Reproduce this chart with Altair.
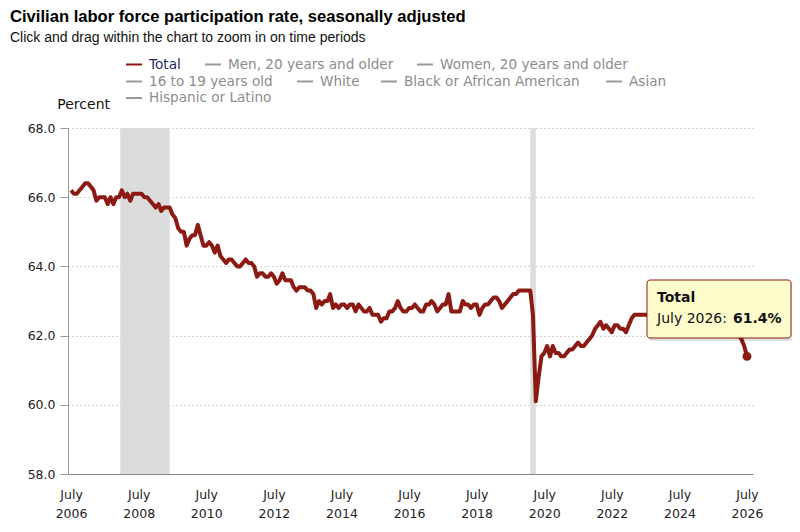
import altair as alt
import pandas as pd

# ---------------- data ----------------
series_name = "Total"
lfpr_2006 = [66.2, 66.1, 66.1, 66.2, 66.3, 66.4]  # Jul-Dec
lfpr_2007 = [66.4, 66.3, 66.2, 65.9, 66.0, 66.0, 66.0, 65.8, 66.0, 65.8, 66.0, 66.0]
lfpr_2008 = [66.2, 66.0, 66.1, 65.9, 66.1, 66.1, 66.1, 66.1, 66.0, 66.0, 65.9, 65.8]
lfpr_2009 = [65.7, 65.8, 65.6, 65.7, 65.7, 65.7, 65.5, 65.4, 65.1, 65.0, 65.0, 64.6]
lfpr_2010 = [64.8, 64.9, 64.9, 65.2, 64.9, 64.6, 64.6, 64.7, 64.6, 64.4, 64.6, 64.3]
lfpr_2011 = [64.2, 64.1, 64.2, 64.2, 64.1, 64.0, 64.0, 64.1, 64.2, 64.1, 64.1, 64.0]
lfpr_2012 = [63.7, 63.8, 63.8, 63.7, 63.7, 63.8, 63.7, 63.5, 63.6, 63.8, 63.6, 63.6]
lfpr_2013 = [63.6, 63.4, 63.3, 63.4, 63.4, 63.4, 63.3, 63.3, 63.2, 62.8, 63.0, 62.9]
lfpr_2014 = [63.0, 63.0, 63.2, 62.8, 62.9, 62.8, 62.9, 62.9, 62.8, 62.9, 62.9, 62.7]
lfpr_2015 = [62.9, 62.8, 62.7, 62.7, 62.8, 62.6, 62.6, 62.6, 62.4, 62.5, 62.5, 62.7]
lfpr_2016 = [62.7, 62.8, 63.0, 62.8, 62.7, 62.7, 62.8, 62.8, 62.9, 62.8, 62.7, 62.7]
lfpr_2017 = [62.9, 62.9, 63.0, 62.9, 62.7, 62.8, 62.9, 62.9, 63.2, 62.7, 62.7, 62.7]
lfpr_2018 = [62.7, 63.0, 62.9, 62.9, 62.8, 62.9, 62.9, 62.6, 62.8, 62.9, 62.9, 63.0]
lfpr_2019 = [63.1, 63.1, 63.0, 62.8, 62.9, 63.0, 63.1, 63.2, 63.2, 63.3, 63.3, 63.3]
lfpr_2020 = [63.3, 63.3, 62.6, 60.1, 60.8, 61.4, 61.5, 61.7, 61.4, 61.7, 61.5, 61.5]
lfpr_2021 = [61.4, 61.4, 61.5, 61.6, 61.6, 61.7, 61.8, 61.7, 61.7, 61.8, 61.9, 62.0]
lfpr_2022 = [62.2, 62.3, 62.4, 62.2, 62.3, 62.2, 62.1, 62.3, 62.3, 62.2, 62.2, 62.1]
lfpr_2023 = [62.3, 62.5, 62.6, 62.6, 62.6, 62.6, 62.6, 62.6, 62.8, 62.7, 62.8, 62.5]
lfpr_2024 = [62.5, 62.5, 62.7, 62.7, 62.6, 62.6, 62.7, 62.7, 62.7, 62.6, 62.5, 62.5]
lfpr_2025 = [62.6, 62.4, 62.5, 62.6, 62.4, 62.3, 62.2, 62.3, 62.4, 62.4, 62.5, 62.4]
lfpr_2026 = [62.5, 62.4, 62.2, 62.0, 61.9, 61.7, 61.4]  # Jan-Jul

yearly = [
    (2006, 7, lfpr_2006), (2007, 1, lfpr_2007), (2008, 1, lfpr_2008), (2009, 1, lfpr_2009),
    (2010, 1, lfpr_2010), (2011, 1, lfpr_2011), (2012, 1, lfpr_2012), (2013, 1, lfpr_2013),
    (2014, 1, lfpr_2014), (2015, 1, lfpr_2015), (2016, 1, lfpr_2016), (2017, 1, lfpr_2017),
    (2018, 1, lfpr_2018), (2019, 1, lfpr_2019), (2020, 1, lfpr_2020), (2021, 1, lfpr_2021),
    (2022, 1, lfpr_2022), (2023, 1, lfpr_2023), (2024, 1, lfpr_2024), (2025, 1, lfpr_2025),
    (2026, 1, lfpr_2026),
]

recession_start = ["2007-12-15T00:00:00", "2020-02-01T00:00:00"]
recession_end = ["2009-06-01T00:00:00", "2020-04-01T00:00:00"]

tick_years = [2006, 2008, 2010, 2012, 2014, 2016, 2018, 2020, 2022, 2024, 2026]
y_ticks = [58, 60, 62, 64, 66, 68]

legend_labels = ["Total", "Men, 20 years and older", "Women, 20 years and older",
                 "16 to 19 years old", "White", "Black or African American", "Asian",
                 "Hispanic or Latino"]

title_text = "Civilian labor force participation rate, seasonally adjusted"
subtitle_text = "Click and drag within the chart to zoom in on time periods"
y_title = "Percent"

# ---------------- tables ----------------
rows = []
for yr, m0, vals in yearly:
    for i, v in enumerate(vals):
        rows.append({"date": f"{yr}-{m0 + i:02d}-01T00:00:00", "value": v})
df = pd.DataFrame(rows)
last = df.iloc[-1:].copy()

rec_df = pd.DataFrame({"start": recession_start, "end": recession_end})

RED = "#8b1a13"
NAVY = "#1c2a66"
GREY_LINE = "#999999"
GREY_TEXT = "#8c8c8c"
FONT = "DejaVu Sans"
HEAD = "Liberation Sans"

# legend layout (pixels relative to plot origin)
leg_x = [58, 137, 349, 58, 229, 313, 538, 58]
leg_y = [-63.5, -63.5, -63.5, -46.5, -46.5, -46.5, -46.5, -30]
leg_df = pd.DataFrame({
    "label": legend_labels,
    "x0": leg_x,
    "x1": [x + 16 for x in leg_x],
    "tx": [x + 23 for x in leg_x],
    "y": leg_y,
    "lcol": [RED] + [GREY_LINE] * 7,
    "tcol": [NAVY] + [GREY_TEXT] * 7,
})

xscale = alt.Scale(domain=[alt.DateTime(year=2006, month=5, date=29),
                           alt.DateTime(year=2026, month=9, date=4)])
xaxis = alt.Axis(
    title=None,
    values=[alt.DateTime(year=y, month=7, date=1) for y in tick_years],
    labelExpr="[timeFormat(datum.value, '%B'), timeFormat(datum.value, '%Y')]",
    labelFont=FONT, labelFontSize=12.5, labelColor="#222", labelLineHeight=19,
    labelPadding=14, labelFlush=False, labelOverlap=False,
    ticks=False, domainColor="#888", domainWidth=1, grid=False,
)
yscale = alt.Scale(domain=[58, 68], nice=False, zero=False)
yaxis = alt.Axis(
    title=None, values=y_ticks, format=".1f",
    labelFont=FONT, labelFontSize=12.5, labelColor="#222", labelPadding=5,
    tickSize=8, tickColor="#999", domainColor="#999",
    grid=True, gridDash=[1, 3], gridColor="#aaa", gridWidth=1,
)

X = alt.X("date:T", scale=xscale, axis=xaxis)

rec = alt.Chart(rec_df).mark_rect(color="#dcdcdc").encode(
    x=alt.X("start:T", scale=xscale, axis=xaxis), x2="end:T"
)

line = alt.Chart(df).mark_line(color=RED, strokeWidth=4, strokeJoin="round").encode(
    x=X, y=alt.Y("value:Q", scale=yscale, axis=yaxis)
)

dot = alt.Chart(last).mark_point(filled=True, color=RED, size=80, opacity=1).encode(
    x=X, y=alt.Y("value:Q", scale=yscale, axis=yaxis)
)

# tooltip annotation built from the last data point
lv = df.iloc[-1]
lt = pd.Timestamp(lv["date"])
tip_df = pd.DataFrame({
    "name": [series_name],
    "when": [f"{lt.strftime('%B')} {lt.year}: "],
    "val": [f"{lv['value']:.1f}%"],
})
tip_shadow = alt.Chart(tip_df).mark_rect(fill="#000", opacity=0.12, cornerRadius=3).encode(
    x=alt.value(581), x2=alt.value(725), y=alt.value(154), y2=alt.value(213)
)
tip_box = alt.Chart(tip_df).mark_rect(fill="#fefccb", stroke=RED, strokeWidth=1, cornerRadius=3).encode(
    x=alt.value(579), x2=alt.value(723), y=alt.value(152), y2=alt.value(210)
)
tip_t1 = alt.Chart(tip_df).mark_text(font=FONT, fontSize=14, fontWeight="bold", color="#111",
                                     align="left", baseline="middle").encode(
    x=alt.value(589), y=alt.value(170), text="name:N"
)
tip_t2 = alt.Chart(tip_df).mark_text(font=FONT, fontSize=14, color="#111",
                                     align="left", baseline="middle").encode(
    x=alt.value(589), y=alt.value(191), text="when:N"
)
tip_t3 = alt.Chart(tip_df).mark_text(font=FONT, fontSize=14, fontWeight="bold", color="#111",
                                     align="left", baseline="middle").encode(
    x=alt.value(665), y=alt.value(191), text="val:N"
)

# legend
leg_rule = alt.Chart(leg_df).mark_rule(strokeWidth=2).encode(
    x=alt.X("x0:Q", scale=None), x2="x1:Q", y=alt.Y("y:Q", scale=None),
    color=alt.Color("lcol:N", scale=None),
)
leg_text = alt.Chart(leg_df).mark_text(font=FONT, fontSize=13.6, align="left", baseline="middle").encode(
    x=alt.X("tx:Q", scale=None), y=alt.Y("y:Q", scale=None), text="label:N",
    color=alt.Color("tcol:N", scale=None),
)

head_df = pd.DataFrame({"t": [title_text], "s": [subtitle_text], "p": [y_title]})
title_m = alt.Chart(head_df).mark_text(font=HEAD, fontSize=16.6, fontWeight="bold", color="#000",
                                       align="left", baseline="middle").encode(
    x=alt.value(-58), y=alt.value(-111), text="t:N")
sub_m = alt.Chart(head_df).mark_text(font=HEAD, fontSize=14, color="#111",
                                     align="left", baseline="middle").encode(
    x=alt.value(-58), y=alt.value(-90), text="s:N")
pct_m = alt.Chart(head_df).mark_text(font=FONT, fontSize=14, color="#111",
                                     align="right", baseline="middle").encode(
    x=alt.value(42), y=alt.value(-23), text="p:N")

chart = alt.layer(
    rec, line, dot, tip_shadow, tip_box, tip_t1, tip_t2, tip_t3,
    leg_rule, leg_text, title_m, sub_m, pct_m
).properties(
    width=685, height=346,
    padding={"left": 60, "top": 120, "right": 39, "bottom": 50},
    autosize=alt.AutoSizeParams(type="none"),
).configure_view(stroke=None)

chart.save("out.html", embed_options={"renderer": "svg", "actions": False})
